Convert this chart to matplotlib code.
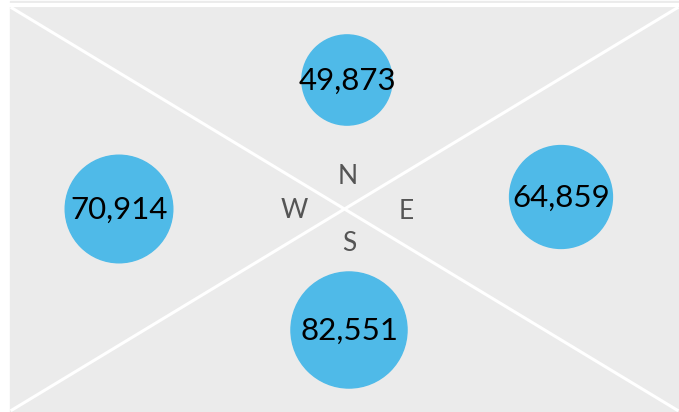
import numpy as np
import matplotlib.pyplot as plt
from matplotlib.patches import Rectangle, Circle

directions = ["N", "W", "E", "S"]
values = [49873, 70914, 64859, 82551]
labels = ["49,873", "70,914", "64,859", "82,551"]

# pixel layout of the picture
centers = {"N": (347, 80), "W": (119, 209), "E": (561, 197), "S": (349, 330)}
letter_pos = {"N": (348, 176), "W": (294, 210), "E": (406, 211), "S": (349, 243)}

fig = plt.figure(figsize=(6.79, 4.12), dpi=100)
ax = fig.add_axes([0, 0, 1, 1])
ax.set_xlim(0, 679)
ax.set_ylim(412, 0)
ax.axis("off")

ax.add_patch(Rectangle((10, 1), 669, 411, color="#ebebeb", zorder=0))
ax.plot([10, 679], [5, 5], color="white", lw=3, zorder=1)
ax.plot([12, 677], [8, 410], color="white", lw=2.2, zorder=1)
ax.plot([12, 677], [410, 8], color="white", lw=2.2, zorder=1)

for d, v, lab in zip(directions, values, labels):
    cx, cy = centers[d]
    r = 0.202 * np.sqrt(v)
    ax.add_patch(Circle((cx, cy), r, color="#4fbae8", zorder=2))
    ax.text(cx, cy + 1, lab, ha="center", va="center", fontsize=22.5,
            family="Lato", color="black", zorder=3)
    lx, ly = letter_pos[d]
    ax.text(lx, ly, d, ha="center", va="center", fontsize=19,
            family="Lato", color="#555555", zorder=3)

fig.savefig("out.png", dpi=100)
